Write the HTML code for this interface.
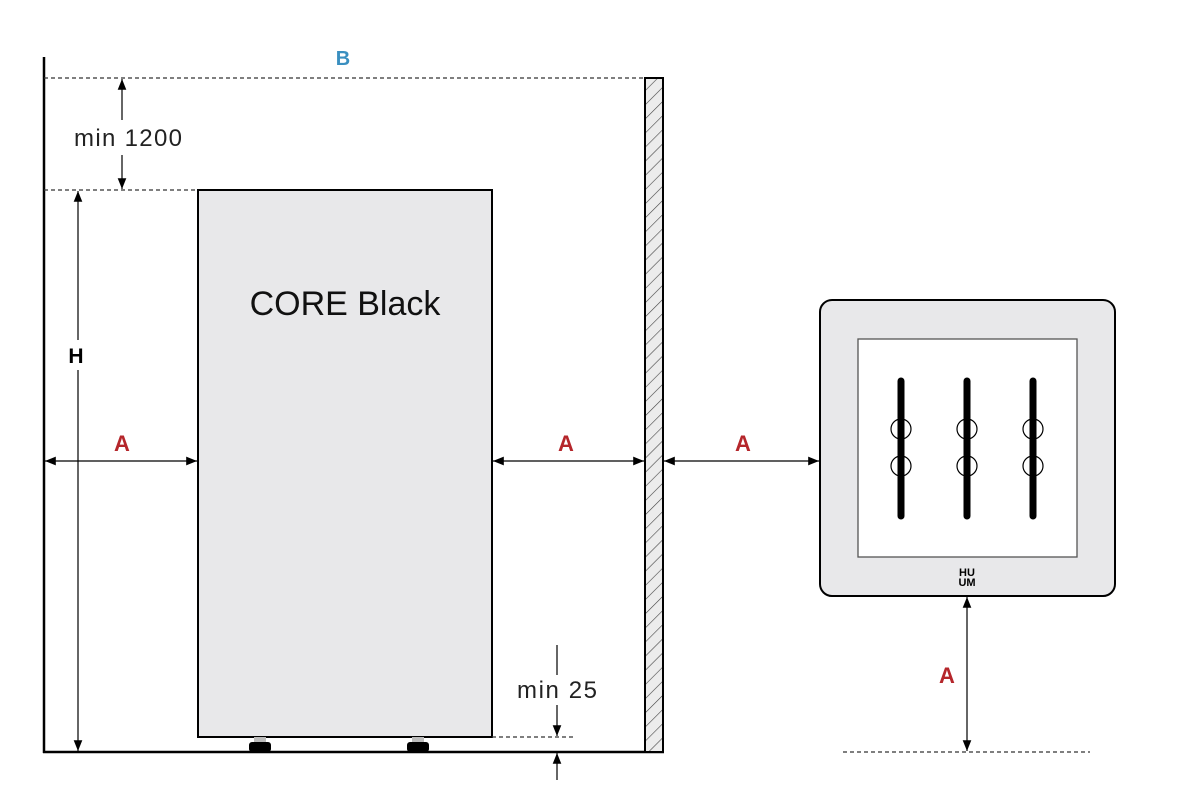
<!DOCTYPE html>
<html><head><style>body{margin:0;background:#fff}svg{display:block}text{font-family:"Liberation Sans",sans-serif}</style></head>
<body>
<svg width="1200" height="798" viewBox="0 0 1200 798" xmlns="http://www.w3.org/2000/svg">
<defs>
<marker id="ar" viewBox="0 0 10 10" refX="10" refY="5" markerWidth="9" markerHeight="9" orient="auto-start-reverse"><path d="M0,1 L10,5 L0,9 z" fill="#000"/></marker>
<pattern id="hatch" width="10" height="10" patternUnits="userSpaceOnUse" patternTransform="rotate(-45)"><rect width="10" height="10" fill="#ececec"/><line x1="0" y1="0" x2="10" y2="0" stroke="#444" stroke-width="1.2"/></pattern>
</defs>
<line x1="44" y1="57" x2="44" y2="753" stroke="#000" stroke-width="2.5"/>
<line x1="43" y1="752" x2="664" y2="752" stroke="#000" stroke-width="2.5"/>
<line x1="44" y1="78" x2="645" y2="78" stroke="#333" stroke-width="1.3" stroke-dasharray="4,3"/>
<text x="343" y="65" font-size="20" font-weight="bold" fill="#3a8fc0" text-anchor="middle">B</text>
<rect x="645" y="78" width="18" height="674" fill="url(#hatch)" stroke="#000" stroke-width="2"/>
<line x1="122" y1="79" x2="122" y2="120" stroke="#000" stroke-width="1.2" marker-start="url(#ar)"/>
<line x1="122" y1="155" x2="122" y2="189" stroke="#000" stroke-width="1.2" marker-end="url(#ar)"/>
<text x="128" y="146" font-size="24" text-anchor="middle" fill="#222" textLength="108">min 1200</text>
<line x1="44" y1="190" x2="198" y2="190" stroke="#333" stroke-width="1.3" stroke-dasharray="4,3"/>
<rect x="198" y="190" width="294" height="547" fill="#e8e8ea" stroke="#000" stroke-width="2"/>
<text x="345" y="315" font-size="34" text-anchor="middle" fill="#111">CORE Black</text>
<g fill="#000"><rect x="249" y="742" width="22" height="10" rx="3"/><rect x="407" y="742" width="22" height="10" rx="3"/></g>
<g fill="#bbb"><rect x="254" y="737" width="12" height="5"/><rect x="412" y="737" width="12" height="5"/></g>
<line x1="78" y1="191" x2="78" y2="340" stroke="#000" stroke-width="1.2" marker-start="url(#ar)"/>
<line x1="78" y1="370" x2="78" y2="751" stroke="#000" stroke-width="1.2" marker-end="url(#ar)"/>
<text x="76" y="363" font-size="21" font-weight="bold" text-anchor="middle">H</text>
<g stroke="#000" stroke-width="1.2">
<line x1="45" y1="461" x2="197" y2="461" marker-start="url(#ar)" marker-end="url(#ar)"/>
<line x1="493" y1="461" x2="644" y2="461" marker-start="url(#ar)" marker-end="url(#ar)"/>
<line x1="664" y1="461" x2="819" y2="461" marker-start="url(#ar)" marker-end="url(#ar)"/>
<line x1="967" y1="597" x2="967" y2="751" marker-start="url(#ar)" marker-end="url(#ar)"/>
</g>
<g font-size="22" font-weight="bold" fill="#b5262b" text-anchor="middle">
<text x="122" y="451">A</text><text x="566" y="451">A</text><text x="743" y="451">A</text><text x="947" y="683">A</text>
</g>
<line x1="843" y1="752" x2="1090" y2="752" stroke="#333" stroke-width="1.3" stroke-dasharray="4,3"/>
<line x1="557" y1="645" x2="557" y2="675" stroke="#000" stroke-width="1.2"/>
<line x1="557" y1="705" x2="557" y2="736" stroke="#000" stroke-width="1.2" marker-end="url(#ar)"/>
<line x1="557" y1="780" x2="557" y2="753" stroke="#000" stroke-width="1.2" marker-end="url(#ar)"/>
<line x1="492" y1="737" x2="576" y2="737" stroke="#333" stroke-width="1.3" stroke-dasharray="4,3"/>
<text x="557" y="698" font-size="24" text-anchor="middle" fill="#222" textLength="80">min 25</text>
<rect x="820" y="300" width="295" height="296" rx="12" fill="#e8e8ea" stroke="#000" stroke-width="2"/>
<rect x="858" y="339" width="219" height="218" fill="#fff" stroke="#555" stroke-width="1.3"/>
<g stroke="#000" stroke-width="7" stroke-linecap="round">
<line x1="901" y1="381" x2="901" y2="516"/><line x1="967" y1="381" x2="967" y2="516"/><line x1="1033" y1="381" x2="1033" y2="516"/>
</g>
<g fill="none" stroke="#000" stroke-width="1.2">
<circle cx="901" cy="429" r="10"/><circle cx="901" cy="466" r="10"/>
<circle cx="967" cy="429" r="10"/><circle cx="967" cy="466" r="10"/>
<circle cx="1033" cy="429" r="10"/><circle cx="1033" cy="466" r="10"/>
</g>
<text x="967" y="576" font-size="11" font-weight="bold" text-anchor="middle">HU</text>
<text x="967" y="586" font-size="11" font-weight="bold" text-anchor="middle">UM</text>
</svg>
</body></html>
